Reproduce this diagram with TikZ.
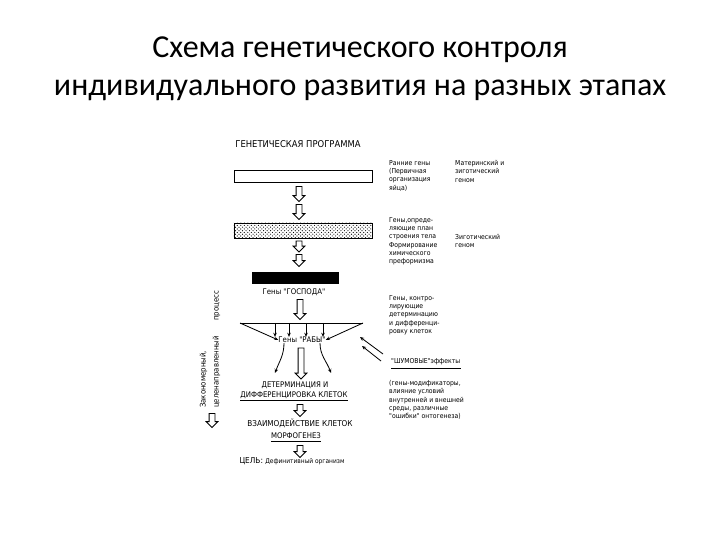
\documentclass[tikz,border=0pt]{standalone}
\usepackage{fontspec}
\setmainfont{Carlito}
\newfontfamily\schemefont{DejaVu Sans Condensed}
\usetikzlibrary{shapes.arrows,patterns,arrows.meta}

\newcommand{\notesize}{\schemefont\fontsize{5.8}{7.1}\selectfont}
\newcommand{\capsize}{\schemefont\fontsize{6.6}{8}\selectfont}

\begin{document}
\begin{tikzpicture}[x=0.03cm, y=-0.03cm,
  every node/.style={inner sep=0pt},
  note/.style={anchor=north west, align=left, font=\notesize},
  label/.style={font=\capsize},
  hollow/.style={single arrow, draw, line width=0.8pt, shape border rotate=270,
    minimum width=0.33cm, single arrow head extend=0.085cm, inner sep=0.075cm},
  bar/.style={draw, line width=0.8pt, minimum width=4.14cm},
  fanarrow/.style={line width=0.7pt, -{Stealth[length=3.5pt,width=3pt]}}]
  \useasboundingbox (0,0) rectangle (720,540);

  % title
  \node[font=\fontsize{27.3}{32.4}\selectfont, align=center] (title) at (360,69)
    {Схема генетического контроля\\индивидуального развития на разных этапах};

  % genetic programme, bars
  \node[label, font=\schemefont\fontsize{8}{9}\selectfont] (prog) at (298,144) {ГЕНЕТИЧЕСКАЯ ПРОГРАММА};
  \node[bar, minimum height=0.36cm] (bar1) at (303,176) {};
  \node[bar, minimum height=0.45cm, pattern=crosshatch dots] (bar2) at (303,230.5) {};
  \node[draw, fill=black, minimum width=2.58cm, minimum height=0.33cm] (bar3) at (295,277.5) {};

  \node[hollow, minimum height=0.45cm] (a1) at (299,192.5) {};
  \node[hollow, minimum height=0.45cm] (a2) at (299,210.5) {};
  \node[hollow, minimum height=0.33cm] (a3) at (299,245) {};
  \node[hollow, minimum height=0.36cm] (a4) at (299,259) {};

  % master and slave genes
  \node[label] (master) at (294,292) {Гены "ГОСПОДА"};
  \node[hollow, minimum height=0.6cm] (a5) at (300,308) {};
  \coordinate (fanL) at (240,323);
  \coordinate (fanR) at (363,323);
  \draw[line width=0.8pt] (fanL) -- (fanR);
  \node[label] (slave) at (302,340) {Гены "РАБЫ"};
  \draw[fanarrow] (fanL) -- (slave.west);
  \draw[fanarrow] (fanR) -- (slave.east);
  \foreach \x in {275,289,306,323}
    \draw[fanarrow] (\x,323) -- (\x,0 |- slave.north);
  \node[hollow, minimum height=0.93cm] (a6) at (301,362) {};
  \coordinate (curveL) at (275,373);
  \coordinate (curveR) at (331,373);
  \draw[fanarrow] ([xshift=-0.54cm]slave.south) to[out=-90, in=70] (curveL);
  \draw[fanarrow] ([xshift=0.54cm]slave.south) to[out=-90, in=110] (curveR);

  % determination, morphogenesis, goal
  \node[label] (det1) at (295,385) {ДЕТЕРМИНАЦИЯ И};
  \node[label] (det2) at (294,395) {ДИФФЕРЕНЦИРОВКА КЛЕТОК};
  \draw[line width=0.6pt] ([yshift=-1.5pt]det2.south west) -- ([yshift=-1.5pt]det2.south east);
  \node[hollow, minimum height=0.36cm] (a7) at (300,409) {};
  \node[label, font=\schemefont\fontsize{6.9}{8}\selectfont] (inter) at (300,423) {ВЗАИМОДЕЙСТВИЕ КЛЕТОК};
  \node[label] (morph) at (296,436) {МОРФОГЕНЕЗ};
  \draw[line width=0.6pt] ([yshift=-1.5pt]morph.south west) -- ([yshift=-1.5pt]morph.south east);
  \node[hollow, minimum height=0.36cm] (a8) at (300,450) {};
  \node[label] (goal) at (292,461) {\fontsize{7}{8}\selectfont ЦЕЛЬ: \fontsize{5.6}{7}\selectfont Дефинитивный организм};

  % left side
  \node[rotate=90, anchor=west, align=left, font=\schemefont\fontsize{6.6}{11}\selectfont] (process) at (210,408)
    {Закономерный,\\целенаправленный\qquad процесс};
  \node[hollow, minimum height=0.42cm] (a9) at (212,419) {};

  % right side notes
  \node[note] (early) at (389,160) {Ранние гены\\(Первичная\\организация\\яйца)};
  \node[note] (genome1) at (455,160) {Материнский и\\зиготический\\геном};
  \node[note] (plan) at (389,217) {Гены,опреде-\\ляющие план\\строения тела\\Формирование\\химического\\преформизма};
  \node[note] (genome2) at (455,234) {Зиготический\\геном};
  \node[note] (control) at (389,295) {Гены, контро-\\лирующие\\детерминацию\\и дифференци-\\ровку клеток};
  \node[note, anchor=west] (noise) at (391,362) {"ШУМОВЫЕ"эффекты};
  \draw[line width=1.3pt] ([yshift=-2.5pt]noise.south west) -- ([yshift=-2.5pt]noise.south east);
  \node[note] (modif) at (389,380) {(гены-модификаторы,\\влияние условий\\внутренней и внешней\\среды, различные\\"ошибки" онтогенеза)};
  \coordinate (noiseA) at (383,354);
  \coordinate (noiseB) at (381,361);
  \draw[fanarrow] (noiseA) -- (360,337);
  \draw[fanarrow] (noiseB) -- (362,346);
\end{tikzpicture}
\end{document}
